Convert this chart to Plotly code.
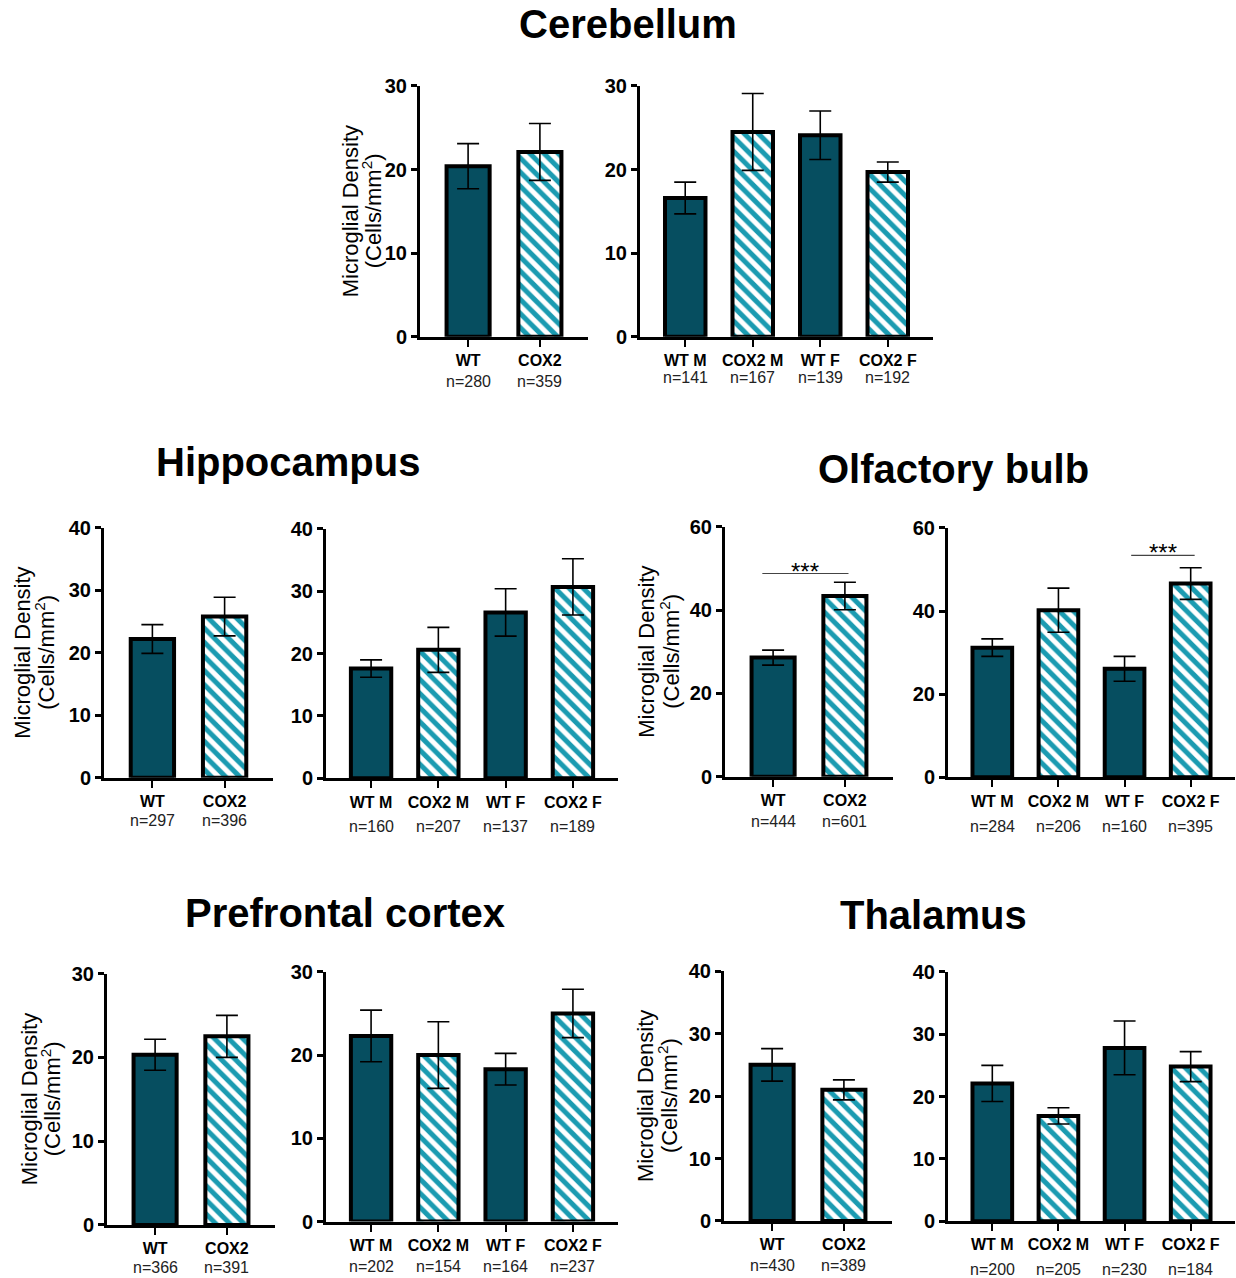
import plotly.graph_objects as go

W, H = 1236, 1278
FONT = "Liberation Sans, Arial, sans-serif"

# ---------------- data ----------------
groups2 = ["WT", "COX2"]
groups4 = ["WT M", "COX2 M", "WT F", "COX2 F"]

cb2_mean = [20.4, 22.1]; cb2_err = [2.7, 3.4]; cb2_n = [280, 359]
cb4_mean = [16.6, 24.5, 24.1, 19.7]; cb4_err = [1.9, 4.6, 2.9, 1.2]; cb4_n = [141, 167, 139, 192]

hc2_mean = [22.2, 25.8]; hc2_err = [2.3, 3.1]; hc2_n = [297, 396]
hc4_mean = [17.6, 20.6, 26.6, 30.7]; hc4_err = [1.4, 3.6, 3.8, 4.5]; hc4_n = [160, 207, 137, 189]

ob2_mean = [28.6, 43.4]; ob2_err = [1.8, 3.3]; ob2_n = [444, 601]
ob4_mean = [31.2, 40.2, 26.1, 46.6]; ob4_err = [2.1, 5.3, 3.0, 3.8]; ob4_n = [284, 206, 160, 395]

pf2_mean = [20.3, 22.5]; pf2_err = [1.85, 2.5]; pf2_n = [366, 391]
pf4_mean = [22.3, 20.0, 18.3, 25.0]; pf4_err = [3.1, 4.0, 1.9, 2.9]; pf4_n = [202, 154, 164, 237]

th2_mean = [25.0, 21.0]; th2_err = [2.6, 1.6]; th2_n = [430, 389]
th4_mean = [22.1, 16.9, 27.8, 24.8]; th4_err = [2.9, 1.3, 4.3, 2.4]; th4_n = [200, 205, 230, 184]

region_names = ["Cerebellum", "Hippocampus", "Olfactory bulb", "Prefrontal cortex", "Thalamus"]
region_ymax = [30, 40, 60, 30, 40]
region_dtick = [10, 10, 20, 10, 10]

# significance: (panel, from group, to group, bar level, label)
sig_level = [("ob2", 0, 1, 48.8, "***"), ("ob4", 2, 3, 53.4, "***")]

# ---------------- layout (target pixel positions) ----------------
panels = [
    ("cb2", 0, groups2, cb2_mean, cb2_err, cb2_n, 420, 588, 336.7, 85.7),
    ("cb4", 0, groups4, cb4_mean, cb4_err, cb4_n, 640, 933, 336.7, 85.7),
    ("hc2", 1, groups2, hc2_mean, hc2_err, hc2_n, 104, 273, 778.0, 528.0),
    ("hc4", 1, groups4, hc4_mean, hc4_err, hc4_n, 326, 618, 778.7, 529.0),
    ("ob2", 2, groups2, ob2_mean, ob2_err, ob2_n, 725, 893, 777.0, 527.0),
    ("ob4", 2, groups4, ob4_mean, ob4_err, ob4_n, 948, 1235, 777.7, 528.0),
    ("pf2", 3, groups2, pf2_mean, pf2_err, pf2_n, 107, 275, 1225.7, 974.0),
    ("pf4", 3, groups4, pf4_mean, pf4_err, pf4_n, 326, 618, 1222.3, 972.3),
    ("th2", 4, groups2, th2_mean, th2_err, th2_n, 724, 892, 1221.7, 971.7),
    ("th4", 4, groups4, th4_mean, th4_err, th4_n, 948, 1235, 1222.0, 972.3),
]
n_shift = {"cb2": -44, "cb4": -40, "hc2": -42, "hc4": -47, "ob2": -44, "ob4": -48,
           "pf2": -42, "pf4": -44, "th2": -44, "th4": -47}
ytitle_off = {"cb2": (-70, -48), "hc2": (-81, -59), "ob2": (-78, -55),
              "pf2": (-78, -56), "th2": (-79, -56)}
title_pos = [(628, 24), (288, 462), (953, 469), (345, 913), (933, 915)]

# vertical calibration of the photographed page
Y_OFF, Y_SCALE = 10.7, 0.9836

WT_COLOR = "#064e60"
COX_COLOR = "#1b9bb1"

def px(x):
    return x / W

def py(y):
    return 1 - ((y - Y_OFF) / Y_SCALE) / H

def vs(d):
    return d / Y_SCALE

fig = go.Figure()
annotations = []
shapes = []
axes = {}

for k, (key, ri, groups, means, errs, ns, xL, xR, y0, yT) in enumerate(panels):
    idx = k + 1
    xa = "x" if idx == 1 else f"x{idx}"
    ya = "y" if idx == 1 else f"y{idx}"
    wt_i = [i for i, g in enumerate(groups) if g.startswith("WT")]
    cx_i = [i for i, g in enumerate(groups) if g.startswith("COX2")]
    fig.add_trace(go.Bar(
        x=wt_i, y=[means[i] for i in wt_i], xaxis=xa, yaxis=ya, width=0.6,
        marker=dict(color=WT_COLOR, line=dict(color="black", width=4)),
        error_y=dict(type="data", array=[errs[i] for i in wt_i], color="black",
                     thickness=1.6, width=11),
        showlegend=False, name="WT"))
    fig.add_trace(go.Bar(
        x=cx_i, y=[means[i] for i in cx_i], xaxis=xa, yaxis=ya, width=0.6,
        marker=dict(color=COX_COLOR, line=dict(color="black", width=4),
                    pattern=dict(shape="\\", fgcolor=COX_COLOR, bgcolor="white",
                                 size=10, solidity=0.5, fillmode="replace")),
        error_y=dict(type="data", array=[errs[i] for i in cx_i], color="black",
                     thickness=1.6, width=11),
        showlegend=False, name="COX2"))

    nb = len(groups)
    xr = [-0.67, nb - 0.33]
    axes["xaxis" if idx == 1 else f"xaxis{idx}"] = dict(
        domain=[px(xL), px(xR)], anchor=ya, range=xr,
        tickmode="array", tickvals=list(range(nb)), ticktext=groups,
        ticks="outside", ticklen=7, tickwidth=2.2, tickcolor="black",
        showline=True, linewidth=3, linecolor="black", showgrid=False, zeroline=False,
        tickfont=dict(family=FONT, size=16, color="black", weight="bold"),
        fixedrange=True)
    ymax = region_ymax[ri]
    axes["yaxis" if idx == 1 else f"yaxis{idx}"] = dict(
        domain=[py(y0), py(yT)], anchor=xa, range=[0, ymax],
        tickmode="linear", tick0=0, dtick=region_dtick[ri],
        ticks="outside", ticklen=6, tickwidth=2.5, tickcolor="black",
        showline=True, linewidth=3, linecolor="black", showgrid=False, zeroline=False,
        tickfont=dict(family=FONT, size=20, color="black", weight="bold"),
        fixedrange=True)

    for i, n in enumerate(ns):
        annotations.append(dict(
            x=i, y=0, xref=xa, yref=ya, yshift=vs(n_shift[key]), yanchor="middle",
            text=f"n={n}", showarrow=False,
            font=dict(family=FONT, size=16, color="#222")))

    if key in ytitle_off:
        o1, o2 = ytitle_off[key]
        ymid = py((y0 + yT) / 2)
        annotations.append(dict(x=px(xL + o1), y=ymid, xref="paper", yref="paper",
                                text="Microglial Density", textangle=-90, showarrow=False,
                                xanchor="center", yanchor="middle",
                                font=dict(family=FONT, size=22, color="black")))
        annotations.append(dict(x=px(xL + o2), y=ymid, xref="paper", yref="paper",
                                text="(Cells/mm<sup>2</sup>)", textangle=-90, showarrow=False,
                                xanchor="center", yanchor="middle",
                                font=dict(family=FONT, size=22, color="black")))

    for (skey, a, b, lvl, lab) in sig_level:
        if skey != key:
            continue
        x0 = a - 0.15 if nb == 2 else a + 0.1
        x1 = b + 0.05 if nb == 2 else b + 0.06
        shapes.append(dict(type="line", xref=xa, yref=ya, x0=x0, x1=x1, y0=lvl, y1=lvl,
                           line=dict(color="#444", width=1.2)))
        annotations.append(dict(x=(x0 + x1) / 2, y=lvl, xref=xa, yref=ya,
                                text=lab, showarrow=False, yanchor="bottom", yshift=-13,
                                font=dict(family=FONT, size=24, color="black")))

for (name, (tx, ty)) in zip(region_names, title_pos):
    annotations.append(dict(x=px(tx), y=py(ty), xref="paper", yref="paper",
                            text=f"<b>{name}</b>", showarrow=False,
                            xanchor="center", yanchor="middle",
                            font=dict(family=FONT, size=40, color="black")))

fig.update_layout(
    width=W, height=H, margin=dict(l=0, r=0, t=0, b=0),
    paper_bgcolor="white", plot_bgcolor="white",
    barmode="overlay", annotations=annotations, shapes=shapes,
    font=dict(family=FONT), showlegend=False, **axes)

page_css = ("document.documentElement.style.margin='0';"
            "document.body.style.margin='0';"
            "document.body.style.padding='0';"
            "document.body.style.overflow='hidden';"
            "var gd=document.querySelector('.plotly-graph-div');"
            "gd.style.position='fixed';gd.style.top='0px';gd.style.left='0px';")
fig.write_html("out.html", post_script=page_css, config={"displayModeBar": False})
